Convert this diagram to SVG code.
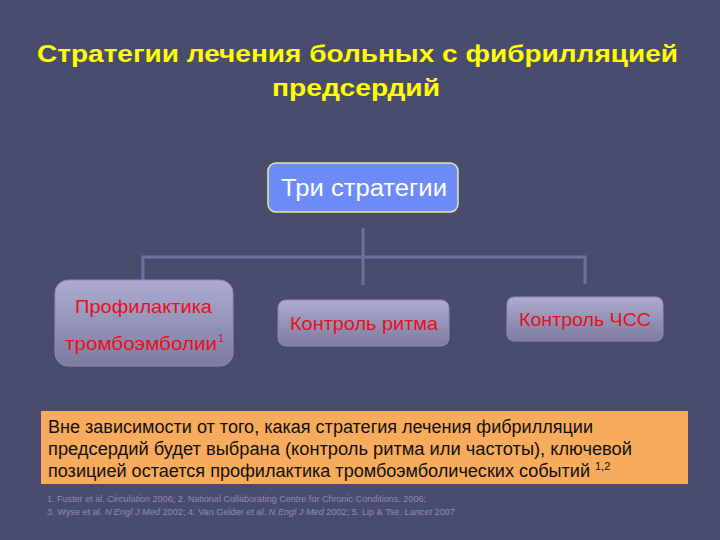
<svg xmlns="http://www.w3.org/2000/svg" width="720" height="540" viewBox="0 0 720 540">
<defs>
<linearGradient id="g" x1="0" y1="0" x2="0" y2="1">
<stop offset="0" stop-color="#acacd0"/>
<stop offset="1" stop-color="#7c7ca0"/>
</linearGradient>
<style>
.t{font-family:"Liberation Sans",Arial,sans-serif;}
.title{fill:#ffff00;font-weight:bold;font-size:24px;}
.box{fill:url(#g);stroke:#8c8cb4;stroke-width:1;}
.lbl{fill:#e8101c;font-size:19px;}
.con{stroke:#6e70a0;stroke-width:3;fill:none;}
.body{fill:#111;font-size:18px;}
.fn{fill:#8a8cac;font-size:9px;}
.sup{font-size:11px;}
</style>
</defs>
<rect width="720" height="540" fill="#4a4c6e"/>
<g class="t title">
<text x="37" y="62" textLength="641" lengthAdjust="spacingAndGlyphs">Стратегии лечения больных с фибрилляцией</text>
<text x="272" y="96" textLength="168" lengthAdjust="spacingAndGlyphs">предсердий</text>
</g>
<g id="connectors" class="con">
<path d="M363 228 V285"/>
<path d="M143 284 V257 H585 V284"/>
</g>
<g id="n0">
<rect x="268" y="163" width="190" height="49" rx="8" fill="#6e8cf8" stroke="#e8e8a0" stroke-width="1.5"/>
<text class="t" x="281" y="196" fill="#fff" font-size="23" textLength="166" lengthAdjust="spacingAndGlyphs">Три стратегии</text>
</g>
<g id="n1">
<rect class="box" x="55" y="280" width="178" height="86" rx="13"/>
<text class="t lbl" x="75" y="313" textLength="137" lengthAdjust="spacingAndGlyphs">Профилактика</text>
<text class="t lbl" x="65" y="350" textLength="152" lengthAdjust="spacingAndGlyphs">тромбоэмболии</text>
<text class="t lbl" x="218" y="342" style="font-size:11px">1</text>
</g>
<g id="n2">
<rect class="box" x="278" y="300" width="171" height="46" rx="8"/>
<text class="t lbl" x="290" y="330" textLength="148" lengthAdjust="spacingAndGlyphs">Контроль ритма</text>
</g>
<g id="n3">
<rect class="box" x="507" y="297" width="156" height="44" rx="7"/>
<text class="t lbl" x="519" y="326" textLength="132" lengthAdjust="spacingAndGlyphs">Контроль ЧСС</text>
</g>
<g id="note">
<rect x="41" y="411" width="647" height="73" fill="#f7ab5c"/>
<g class="t body">
<text x="48" y="433" textLength="545" lengthAdjust="spacingAndGlyphs">Вне зависимости от того, какая стратегия лечения фибрилляции</text>
<text x="48" y="455" textLength="584" lengthAdjust="spacingAndGlyphs">предсердий будет выбрана (контроль ритма или частоты), ключевой</text>
<text x="48" y="477" textLength="542" lengthAdjust="spacingAndGlyphs">позицией остается профилактика тромбоэмболических событий</text>
<text x="595" y="470" style="font-size:11px">1,2</text>
</g>
</g>
<g class="t fn">
<text x="47" y="502" textLength="379" lengthAdjust="spacingAndGlyphs">1. Fuster et al. <tspan font-style="italic">Circulation</tspan> 2006; 2. National Collaborating Centre for Chronic Conditions. 2006;</text>
<text x="47" y="515" textLength="408" lengthAdjust="spacingAndGlyphs">3. Wyse et al. <tspan font-style="italic">N Engl J Med</tspan> 2002; 4. Van Gelder et al. <tspan font-style="italic">N Engl J Med</tspan> 2002; 5. Lip &amp; Tse. <tspan font-style="italic">Lancet</tspan>  2007</text>
</g>
</svg>
